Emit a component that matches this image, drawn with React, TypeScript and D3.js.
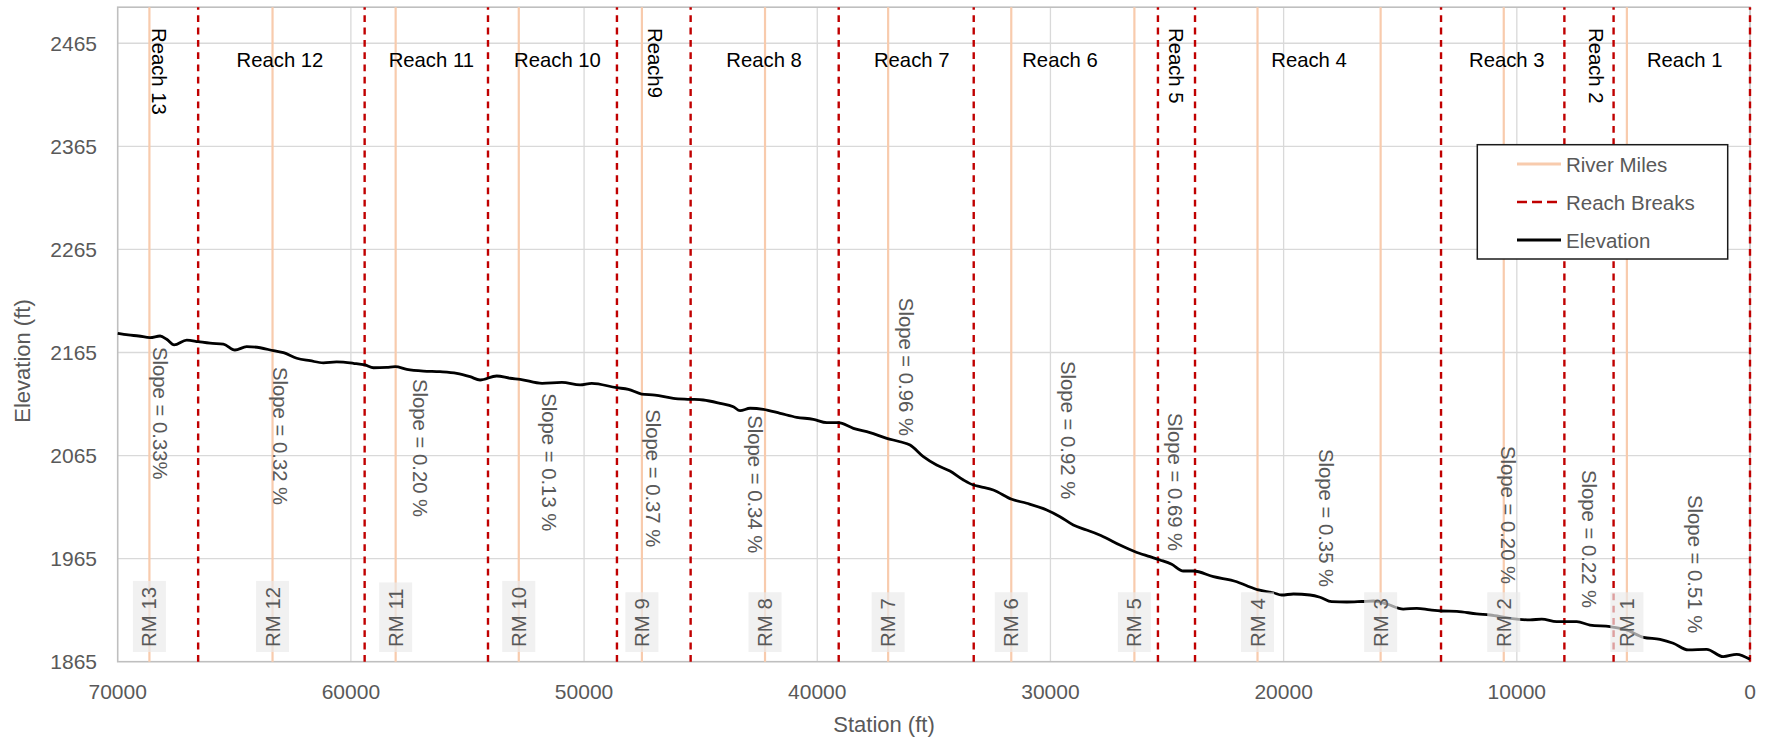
import React, { useEffect, useRef } from "react";
import * as d3 from "d3";

// ---------- DATA ----------
const stations = [
  70000, 69550, 69100, 68610, 68180, 67900, 67580, 67040, 66540, 66040, 65470, 64970, 64470, 63890,
  63320, 62890, 62320, 61750, 61180, 60610, 59890, 59390, 59030, 58460, 58100, 57600, 56890, 56180,
  55460, 54890, 54460, 53750, 53170, 52740, 51800, 50950, 50170, 49670, 48600, 48100, 47530, 46960,
  46170, 45460, 44890, 44170, 43600, 43310, 42880, 42310, 41590, 40880, 40170, 39590, 39100, 38450,
  37740, 37020, 36450, 36020, 35450, 34880, 34310, 33730, 33300, 33020, 32450, 31660, 31020, 30160,
  29590, 29020, 28450, 27730, 27020, 26370, 25730, 25300, 24800, 24300, 23870, 23010, 22010, 21580,
  21080, 20440, 20080, 19580, 18870, 18440, 17940, 17290, 16650, 16150, 15580, 14870, 14290, 13720,
  13220, 12570, 11720, 11150, 10290, 9430, 8930, 8290, 7430, 6860, 6000, 5290, 4570, 3860, 3290,
  2650, 1860, 1150, 570, 0,
];
const elevations = [
  2183.6, 2182, 2181, 2179.4, 2181, 2177.8, 2172.3, 2177, 2175.5, 2174, 2173.2, 2167.4, 2170.6, 2169.6,
  2166.7, 2164.8, 2159.4, 2157, 2155, 2155.8, 2154.5, 2152.9, 2150.2, 2150.6, 2151.2, 2148.7, 2147, 2146.4,
  2144.8, 2141.5, 2138.3, 2142.2, 2140, 2139, 2135.1, 2136, 2133.5, 2135.1, 2130.8, 2129.3, 2124.7, 2123.7,
  2120.5, 2119.6, 2118.9, 2115.7, 2112.4, 2108.5, 2110.9, 2109.9, 2106, 2102.1, 2100.2, 2096.9, 2096.9, 2091.4,
  2087.2, 2081.7, 2078.4, 2075.2, 2063.9, 2055.8, 2050, 2041.3, 2036.4, 2034.8, 2031.6, 2022.6, 2018.7, 2012.2,
  2005.7, 1997.6, 1992.8, 1986.3, 1978.2, 1971.7, 1966.9, 1963.7, 1959.5, 1953, 1953, 1947.5, 1942.6, 1938.7,
  1934.6, 1931.9, 1929.7, 1930.7, 1929.7, 1927.5, 1923.2, 1922.9, 1923.4, 1923.9, 1921, 1916.1, 1916.8, 1915.2,
  1914.2, 1913.9, 1911.3, 1910.3, 1907.1, 1905.5, 1906.4, 1903.8, 1903.8, 1900.6, 1899, 1895.8, 1888.7, 1886.7, 1882.9,
  1876.4, 1877, 1869.9, 1872.2, 1867.3,
];

const riverMileStations = [5280, 10560, 15840, 21120, 26400, 31680, 36960, 42240, 47520, 52800, 58080, 63360, 68640];
const riverMileLabels = ["RM 1", "RM 2", "RM 3", "RM 4", "RM 5", "RM 6", "RM 7", "RM 8", "RM 9", "RM 10", "RM 11", "RM 12", "RM 13"];

const reachBreakStations = [66550, 59410, 54120, 48590, 45430, 39080, 33290, 25390, 23800, 13250, 7960, 5850, 0];

const reachNames = ["Reach 13", "Reach 12", "Reach 11", "Reach 10", "Reach9", "Reach 8", "Reach 7", "Reach 6", "Reach 5", "Reach 4", "Reach 3", "Reach 2", "Reach 1"];
const reachLabelStations = [68250, 63040, 56550, 51140, 46940, 42280, 35950, 29590, 24610, 18910, 10430, 6600, 2800];
const reachLabelVertical = [true, false, false, false, true, false, false, false, true, false, false, true, false];

const slopeTexts = [
  "Slope = 0.33%", "Slope = 0.32 %", "Slope = 0.20 %", "Slope = 0.13 %", "Slope = 0.37 %", "Slope = 0.34 %",
  "Slope = 0.96 %", "Slope = 0.92 %", "Slope = 0.69 %", "Slope = 0.35 %", "Slope = 0.20 %", "Slope = 0.22 %", "Slope = 0.51 %",
];
const slopeStations = [68180, 63020, 57050, 51520, 47030, 42660, 36180, 29240, 24650, 18180, 10370, 6900, 2360];
const slopeTopElevations = [2170.3, 2150.9, 2139.3, 2125.5, 2110, 2104.2, 2218, 2156.7, 2106.3, 2071.4, 2074.3, 2051, 2026.7];

const xTickValues = [70000, 60000, 50000, 40000, 30000, 20000, 10000, 0];
const yTickValues = [1865, 1965, 2065, 2165, 2265, 2365, 2465];
const legendItems = ["River Miles", "Reach Breaks", "Elevation"];

// ---------- STYLE ----------
const W = 1771;
const H = 743;
const PL = 117.7, PR = 1750, PT = 7.2, PB = 661.7;
const FONT = "'Liberation Sans', Arial, sans-serif";
const GRAY_TEXT = "#595959";
const RM_COLOR = "#f8cbad";
const BREAK_COLOR = "#c00000";

export default function App() {
  const ref = useRef<SVGSVGElement | null>(null);

  useEffect(() => {
    const svg = d3.select(ref.current);
    svg.selectAll("*").remove();

    const x = d3.scaleLinear().domain([70000, 0]).range([PL, PR]);
    const y = d3.scaleLinear().domain([1865, 2500]).range([PB, PT]);

    svg.append("rect").attr("width", W).attr("height", H).attr("fill", "#ffffff");

    // gridlines
    const grid = svg.append("g");
    yTickValues.filter((v) => v !== 1865).forEach((v) => {
      grid.append("line").attr("x1", PL).attr("x2", PR).attr("y1", y(v)).attr("y2", y(v))
        .attr("stroke", "#d9d9d9").attr("stroke-width", 1.3);
    });
    xTickValues.filter((v) => v !== 70000 && v !== 0).forEach((v) => {
      grid.append("line").attr("x1", x(v)).attr("x2", x(v)).attr("y1", PT).attr("y2", PB)
        .attr("stroke", "#d9d9d9").attr("stroke-width", 1.3);
    });

    // plot border
    svg.append("rect").attr("x", PL).attr("y", PT).attr("width", PR - PL).attr("height", PB - PT)
      .attr("fill", "none").attr("stroke", "#bfbfbf").attr("stroke-width", 1.6);

    // river mile lines
    riverMileStations.forEach((s) => {
      svg.append("line").attr("x1", x(s)).attr("x2", x(s)).attr("y1", y(1865)).attr("y2", y(2500))
        .attr("stroke", RM_COLOR).attr("stroke-width", 2.2);
    });

    // reach break lines
    reachBreakStations.forEach((s) => {
      svg.append("line").attr("x1", x(s)).attr("x2", x(s)).attr("y1", y(1865)).attr("y2", y(2500))
        .attr("stroke", BREAK_COLOR).attr("stroke-width", 2.4).attr("stroke-dasharray", "6.8,5.5");
    });

    // elevation line
    const pts: [number, number][] = stations.map((s, i) => [s, elevations[i]]);
    const line = d3.line<[number, number]>().x((d) => x(d[0])).y((d) => y(d[1])).curve(d3.curveMonotoneX);
    svg.append("path").attr("d", line(pts) as string).attr("fill", "none").attr("stroke", "#000")
      .attr("stroke-width", 2.8).attr("stroke-linejoin", "round");

    // RM labels with translucent boxes
    riverMileStations.forEach((s, i) => {
      const g = svg.append("g");
      const cx = x(s);
      const bottom = 647;
      const rectSel = g.append("rect");
      const t = g.append("text")
        .attr("transform", `translate(${cx},${bottom}) rotate(-90)`)
        .attr("text-anchor", "start").attr("dominant-baseline", "central")
        .attr("font-family", FONT).attr("font-size", 20.4).attr("fill", GRAY_TEXT)
        .text(riverMileLabels[i]);
      const len = (t.node() as SVGTextElement).getComputedTextLength();
      rectSel.attr("x", cx - 16.5).attr("width", 33).attr("y", bottom - len - 6).attr("height", len + 11)
        .attr("fill", "#ebebeb").attr("fill-opacity", 0.68);
    });

    // reach labels
    reachNames.forEach((n, i) => {
      const cx = x(reachLabelStations[i]);
      if (reachLabelVertical[i]) {
        svg.append("text").attr("transform", `translate(${cx},28) rotate(90)`)
          .attr("text-anchor", "start").attr("dominant-baseline", "central")
          .attr("font-family", FONT).attr("font-size", 20.3).attr("fill", "#000").text(n);
      } else {
        svg.append("text").attr("x", cx).attr("y", 66.8).attr("text-anchor", "middle")
          .attr("font-family", FONT).attr("font-size", 20.3).attr("fill", "#000").text(n);
      }
    });

    // slope labels
    slopeTexts.forEach((tx, i) => {
      svg.append("text")
        .attr("transform", `translate(${x(slopeStations[i])},${y(slopeTopElevations[i])}) rotate(90)`)
        .attr("text-anchor", "start").attr("dominant-baseline", "central")
        .attr("font-family", FONT).attr("font-size", 20.3).attr("fill", GRAY_TEXT).text(tx);
    });

    // axes tick labels
    yTickValues.forEach((v) => {
      svg.append("text").attr("x", 97).attr("y", y(v)).attr("text-anchor", "end")
        .attr("dominant-baseline", "central").attr("font-family", FONT).attr("font-size", 21)
        .attr("fill", GRAY_TEXT).text(String(v));
    });
    xTickValues.forEach((v) => {
      svg.append("text").attr("x", x(v)).attr("y", 691.5).attr("text-anchor", "middle")
        .attr("dominant-baseline", "central").attr("font-family", FONT).attr("font-size", 21)
        .attr("fill", GRAY_TEXT).text(String(v));
    });

    // axis titles
    svg.append("text").attr("x", 884).attr("y", 724).attr("text-anchor", "middle")
      .attr("dominant-baseline", "central").attr("font-family", FONT).attr("font-size", 22)
      .attr("fill", GRAY_TEXT).text("Station (ft)");
    svg.append("text").attr("transform", "translate(22.6,361) rotate(-90)").attr("text-anchor", "middle")
      .attr("dominant-baseline", "central").attr("font-family", FONT).attr("font-size", 22)
      .attr("fill", GRAY_TEXT).text("Elevation (ft)");

    // legend
    const lg = svg.append("g");
    lg.append("rect").attr("x", 1477.3).attr("y", 144.7).attr("width", 250.4).attr("height", 114.3)
      .attr("fill", "#fff").attr("stroke", "#1a1a1a").attr("stroke-width", 1.5);
    const rowsY = [164, 202, 240];
    legendItems.forEach((name, i) => {
      const ly = rowsY[i];
      const l = lg.append("line").attr("x1", 1517).attr("x2", 1561).attr("y1", ly).attr("y2", ly);
      if (i === 0) l.attr("stroke", RM_COLOR).attr("stroke-width", 3);
      else if (i === 1) l.attr("stroke", BREAK_COLOR).attr("stroke-width", 2.6).attr("stroke-dasharray", "10,5");
      else l.attr("stroke", "#000").attr("stroke-width", 3);
      lg.append("text").attr("x", 1566).attr("y", ly).attr("dominant-baseline", "central")
        .attr("font-family", FONT).attr("font-size", 20.5).attr("fill", GRAY_TEXT).text(name);
    });
  }, []);

  return (
    <svg
      ref={ref}
      width={W}
      height={H}
      style={{ position: "absolute", left: 0, top: 0, display: "block" }}
    />
  );
}
